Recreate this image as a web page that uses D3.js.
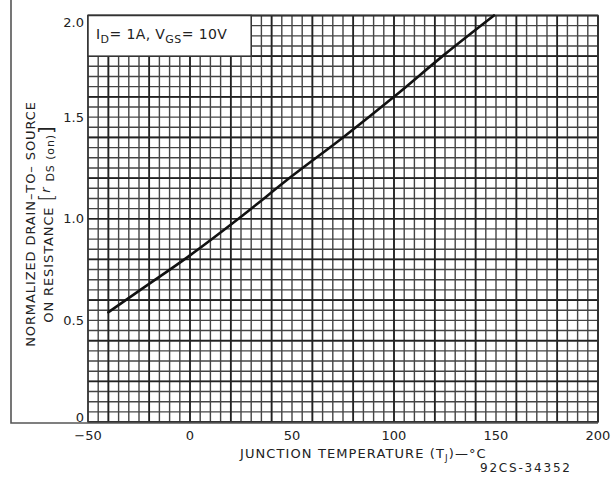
<!DOCTYPE html>
<html>
<head>
<meta charset="utf-8">
<script src="https://cdn.jsdelivr.net/npm/d3@7"></script>
<style>
  body { margin: 0; background: #fff; }
  svg text { font-family: "DejaVu Sans", "Liberation Sans", sans-serif; fill: #222; }
</style>
</head>
<body>
<svg id="chart" width="611" height="477"></svg>
<script>
// junction temperature (degC) vs normalized rDS(on)
const temps = [-40, -25, 0, 25, 50, 75, 100, 125, 149];
const rdsNorm = [0.54, 0.645, 0.82, 1.01, 1.21, 1.40, 1.60, 1.81, 2.0];

const xTickLabels = [-50, 0, 50, 100, 150, 200];
const yTickLabels = [0, 0.5, 1.0, 1.5, 2.0];

let svg = d3.select('#chart');

let margin = { left: 88, right: 13, top: 15.5, bottom: 55 };
let width = 611, height = 477;

let x = d3.scaleLinear()
  .domain([-50, 200])
  .range([margin.left, width - margin.right]);

let y = d3.scaleLinear()
  .domain([0, 2.0])
  .range([height - margin.bottom, margin.top]);

// fine grid every 5 degC / 0.05, heavy lines every 25 degC / 0.25
let grid = svg.append('g').attr('class', 'grid');

grid.selectAll('line.vminor')
  .data(x.ticks(50))
  .enter().append('line')
  .attr('x1', d => x(d)).attr('x2', d => x(d))
  .attr('y1', y(0)).attr('y2', y(2.0))
  .attr('stroke', '#444').attr('stroke-width', 1.4);

grid.selectAll('line.hminor')
  .data(y.ticks(40))
  .enter().append('line')
  .attr('y1', d => y(d)).attr('y2', d => y(d))
  .attr('x1', x(-50)).attr('x2', x(200))
  .attr('stroke', '#444').attr('stroke-width', 1.4);

grid.selectAll('line.vmajor')
  .data(x.ticks(10))
  .enter().append('line')
  .attr('x1', d => x(d)).attr('x2', d => x(d))
  .attr('y1', y(0)).attr('y2', y(2.0))
  .attr('stroke', '#222').attr('stroke-width', 1.7);

grid.selectAll('line.hmajor')
  .data(y.ticks(8))
  .enter().append('line')
  .attr('y1', d => y(d)).attr('y2', d => y(d))
  .attr('x1', x(-50)).attr('x2', x(200))
  .attr('stroke', '#222').attr('stroke-width', 1.7);

// plot frame
svg.append('rect')
  .attr('x', x(-50)).attr('y', y(2.0))
  .attr('width', x(200) - x(-50)).attr('height', y(0) - y(2.0))
  .attr('fill', 'none').attr('stroke', '#333').attr('stroke-width', 1.5);

// outer frame line on the left and bottom
svg.append('path')
  .attr('d', `M11,0 V${y(0) + 1} H${x(200)}`)
  .attr('fill', 'none').attr('stroke', '#555').attr('stroke-width', 1.6);

// condition box (blanks grid cells in the top left corner)
svg.append('rect')
  .attr('x', x(-50)).attr('y', y(2.0))
  .attr('width', x(30) - x(-50)).attr('height', y(1.8) - y(2.0))
  .attr('fill', '#fff').attr('stroke', '#333').attr('stroke-width', 1.5);

let cond = svg.append('text')
  .attr('x', x(-50) + 8).attr('y', y(2.0) + 23)
  .attr('font-size', 14)
  .attr('letter-spacing', 0.4);
cond.append('tspan').text('I');
cond.append('tspan').attr('font-size', 11).attr('dy', 4).text('D');
cond.append('tspan').attr('dy', -4).text('= 1A, V');
cond.append('tspan').attr('font-size', 11).attr('dy', 4).text('GS');
cond.append('tspan').attr('dy', -4).text('= 10V');

// curve
let line = d3.line()
  .x(d => x(d[0]))
  .y(d => y(d[1]))
  .curve(d3.curveMonotoneX);

svg.append('path')
  .datum(d3.zip(temps, rdsNorm))
  .attr('d', line)
  .attr('fill', 'none')
  .attr('stroke', '#111')
  .attr('stroke-width', 2.6)
  .attr('stroke-linecap', 'round');

// tick labels
svg.selectAll('text.xlab')
  .data(xTickLabels)
  .enter().append('text')
  .attr('class', 'xlab')
  .attr('x', d => x(d))
  .attr('y', 440)
  .attr('text-anchor', 'middle')
  .attr('font-size', 13)
  .text(d => d < 0 ? '\u2212' + Math.abs(d) : d);

svg.selectAll('text.ylab')
  .data(yTickLabels)
  .enter().append('text')
  .attr('class', 'ylab')
  .attr('x', x(-50) - 4)
  .attr('y', d => Math.min(Math.max(y(d), 22), 417))
  .attr('dy', '0.36em')
  .attr('text-anchor', 'end')
  .attr('font-size', 13)
  .text(d => d === 0 ? '0' : d3.format('.1f')(d));

// axis titles
let xTitle = svg.append('text')
  .attr('x', 240).attr('y', 458)
  .attr('font-size', 13)
  .attr('letter-spacing', 1.1);
xTitle.append('tspan').text('JUNCTION TEMPERATURE (T');
xTitle.append('tspan').attr('font-size', 9).attr('dy', 3).text('J');
xTitle.append('tspan').attr('dy', -3).text(')\u2014\u00B0C');

svg.append('text')
  .attr('x', 480).attr('y', 472)
  .attr('font-size', 12)
  .attr('letter-spacing', 1.8)
  .text('92CS-34352');

let yTitle = svg.append('g')
  .attr('transform', 'translate(0,224) rotate(-90)');

yTitle.append('text')
  .attr('x', 0).attr('y', 35)
  .attr('text-anchor', 'middle')
  .attr('font-size', 13)
  .attr('letter-spacing', 0.9)
  .text('NORMALIZED DRAIN\u2013TO\u2013 SOURCE');

let t2 = yTitle.append('text')
  .attr('x', 0).attr('y', 53)
  .attr('text-anchor', 'middle')
  .attr('font-size', 13)
  .attr('letter-spacing', 0.9);
t2.append('tspan').text('ON RESISTANCE ');
t2.append('tspan').attr('font-size', 20).attr('font-weight', 'lighter').text('[');
t2.append('tspan').attr('font-style', 'italic').attr('dy', -3).text('r ');
t2.append('tspan').attr('font-size', 11).attr('dy', 4).text('DS (on)');
t2.append('tspan').attr('font-size', 20).attr('dy', -1).text(']');
</script>
</body>
</html>
